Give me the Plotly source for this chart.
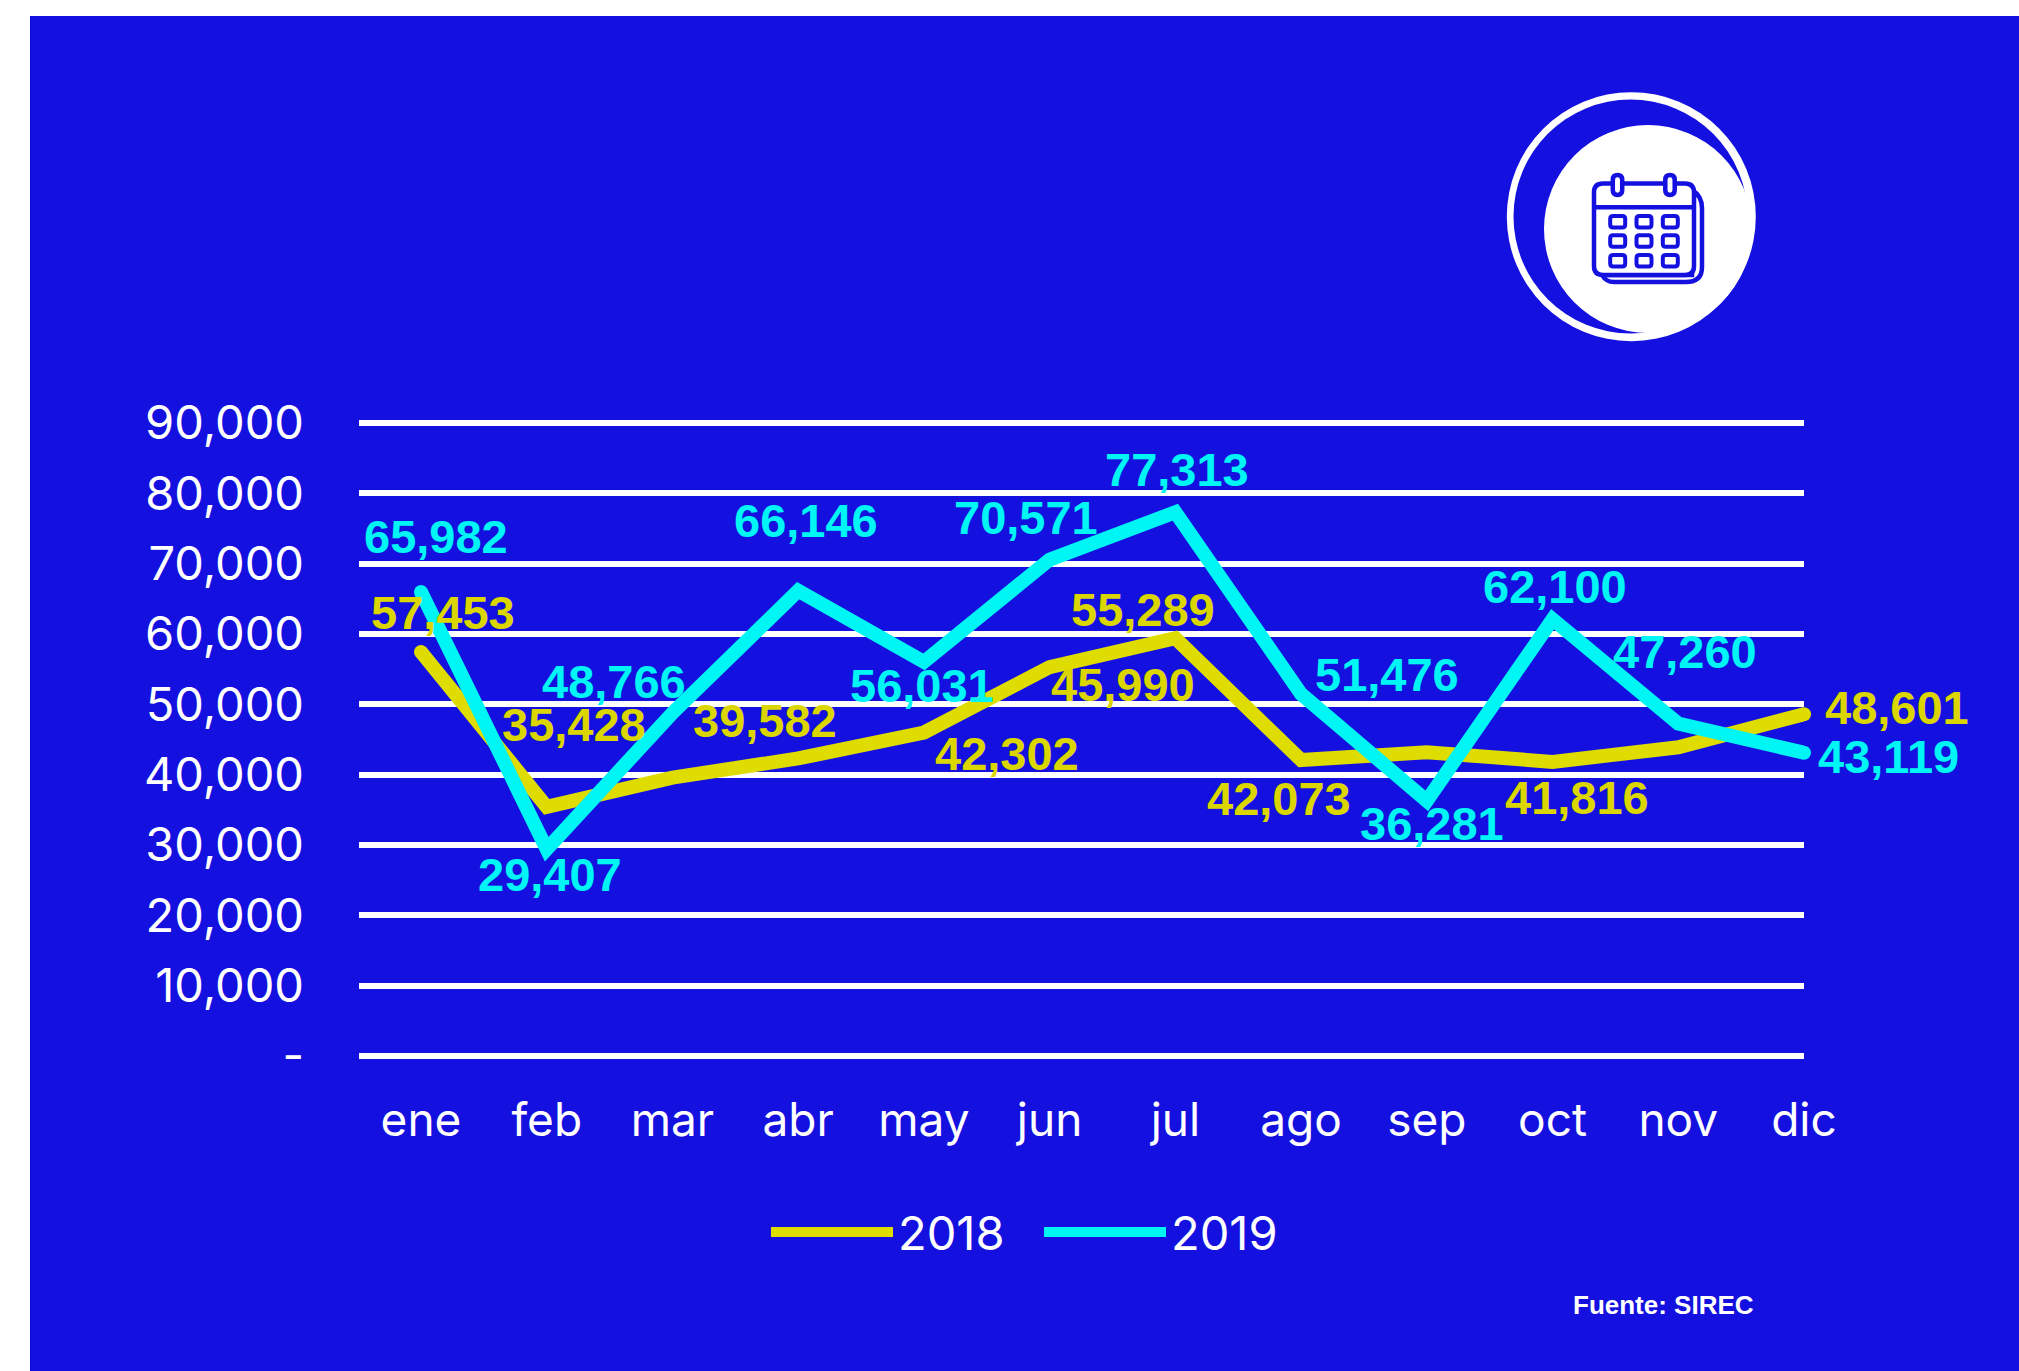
import plotly.graph_objects as go

W, H = 2019, 1371

months = ["ene", "feb", "mar", "abr", "may", "jun", "jul", "ago", "sep", "oct", "nov", "dic"]
values_2018 = [57453, 35428, 39582, 42302, 45990, 55289, 59400, 42073, 43200, 41816, 43900, 48601]
values_2019 = [65982, 29407, 48766, 66146, 56031, 70571, 77313, 51476, 36281, 62100, 47260, 43119]
labelled_2018 = [True, True, True, True, True, True, False, True, False, True, False, True]
y_ticks = [0, 10000, 20000, 30000, 40000, 50000, 60000, 70000, 80000, 90000]
y_tick_text = ["-", "10,000", "20,000", "30,000", "40,000", "50,000", "60,000", "70,000", "80,000", "90,000"]

# label offsets from their point, in pixels (dx, dy down)
offsets_2018 = [(22, -39), (27, -82), (93, -57), (209, -5), (199, -48), (93, -58),
                None, (-22, 38), None, (24, 36), None, (93, -7)]
offsets_2019 = [(15, -55), (3, 25), (-58, -32), (8, -70), (-2, 24), (-24, -42),
                (2, -43), (86, -19), (5, 23), (2, -33), (7, -72), (84, 4)]

BLUE = "#1410DF"
YELLOW = "#DEDC00"
CYAN = "#00F5F5"
TICK_FONT = "Inter"
LABEL_FONT = "Liberation Sans"


def px(x):
    return x / W


def py(y):
    return 1 - y / H


def path_rrect(x0, y0, x1, y1, r):
    def p(x, y):
        return f"{px(x):.5f},{py(y):.5f}"
    return (f"M{p(x0 + r, y0)} L{p(x1 - r, y0)} Q{p(x1, y0)} {p(x1, y0 + r)} "
            f"L{p(x1, y1 - r)} Q{p(x1, y1)} {p(x1 - r, y1)} L{p(x0 + r, y1)} "
            f"Q{p(x0, y1)} {p(x0, y1 - r)} L{p(x0, y0 + r)} Q{p(x0, y0)} {p(x0 + r, y0)} Z")


def circle(cx, cy, r, color):
    return dict(type="circle", xref="paper", yref="paper", layer="below",
                x0=px(cx - r), x1=px(cx + r), y0=py(cy + r), y1=py(cy - r),
                fillcolor=color, line=dict(width=0))


def stroke_path(d, width=4.5, fill="white"):
    return dict(type="path", xref="paper", yref="paper", layer="below", path=d,
                fillcolor=fill, line=dict(color=BLUE, width=width))


shapes = [dict(type="rect", xref="paper", yref="paper", layer="below",
               x0=px(30), x1=1, y0=0, y1=py(16), fillcolor=BLUE, line=dict(width=0))]
shapes += [circle(1631.3, 216.7, 124.5, "white"),
           circle(1630.5, 216.5, 117, BLUE),
           circle(1648, 229, 104, "white")]


def pt(x, y):
    return f"{px(x):.5f},{py(y):.5f}"


# calendar icon
shapes.append(stroke_path(
    f"M{pt(1692, 190)} Q{pt(1702, 196)} {pt(1702, 208)} L{pt(1702, 267)} "
    f"Q{pt(1702, 282)} {pt(1686, 282)} L{pt(1614, 282)} Q{pt(1606, 282)} {pt(1602, 275)} "
    f"L{pt(1692, 275)} Z"))
shapes.append(stroke_path(path_rrect(1594, 183.5, 1694, 275, 9)))
shapes.append(stroke_path(f"M{pt(1594, 207.3)} L{pt(1694, 207.3)}", fill="rgba(0,0,0,0)"))
for cx_ in (1617.5, 1670):
    shapes.append(stroke_path(path_rrect(cx_ - 4.7, 175, cx_ + 4.7, 195, 4.7)))
for cy_ in (221.7, 241, 260.7):
    for cx_ in (1617.7, 1644, 1670.3):
        shapes.append(stroke_path(path_rrect(cx_ - 7.5, cy_ - 5.7, cx_ + 7.5, cy_ + 5.7, 3), width=4))

fig = go.Figure()
for name, vals, color in (("2018", values_2018, YELLOW), ("2019", values_2019, CYAN)):
    fig.add_trace(go.Scatter(x=months, y=vals, name=name, mode="lines",
                             line=dict(color=color, width=14), cliponaxis=False))
    # rounded line ends
    fig.add_trace(go.Scatter(x=[months[0], months[-1]], y=[vals[0], vals[-1]], mode="markers",
                             marker=dict(color=color, size=14), showlegend=False,
                             hoverinfo="skip", cliponaxis=False))

annotations = []
for vals, offs, color, flags in ((values_2018, offsets_2018, "#DBD600", labelled_2018),
                                 (values_2019, offsets_2019, CYAN, [True] * 12)):
    for m, v, o, show in zip(months, vals, offs, flags):
        if not show:
            continue
        annotations.append(dict(x=m, y=v, xref="x", yref="y", text=f"{v:,}", showarrow=False,
                                xshift=o[0], yshift=-o[1], xanchor="center", yanchor="middle",
                                font=dict(family=LABEL_FONT, size=47, color=color, weight="bold")))
annotations.append(dict(x=px(1571), y=py(1305), xref="paper", yref="paper", text="Fuente: SIREC",
                        showarrow=False, xanchor="left", yanchor="middle",
                        font=dict(family="Liberation Sans", size=26, color="white", weight="bold")))

Y_TOP = 91000
fig.update_layout(
    width=W, height=H, autosize=False,
    margin=dict(l=0, r=0, t=0, b=0, pad=0, autoexpand=False),
    paper_bgcolor="white", plot_bgcolor="rgba(0,0,0,0)",
    shapes=shapes, annotations=annotations, hovermode=False,
    xaxis=dict(domain=[px(359), px(1804)], type="category", categoryorder="array", categoryarray=months,
               range=[-0.493, 11], showgrid=False, showline=False, ticks="", zeroline=False,
               tickfont=dict(family=TICK_FONT, size=46, color="white"), ticklabelstandoff=33),
    yaxis=dict(domain=[py(1056), py(1056 - 633 * Y_TOP / 90000)], range=[0, Y_TOP], tickmode="array",
               tickvals=y_ticks, ticktext=y_tick_text, showgrid=True, gridcolor="white", gridwidth=6,
               zeroline=True, zerolinecolor="white", zerolinewidth=6, showline=False, ticks="",
               tickfont=dict(family=TICK_FONT, size=47, color="white"), ticklabelstandoff=54),
    legend=dict(orientation="h", x=px(766), y=py(1195), xanchor="left", yanchor="top",
                bgcolor="rgba(0,0,0,0)", itemwidth=122, traceorder="normal",
                entrywidth=136, entrywidthmode="pixels",
                font=dict(family=TICK_FONT, size=47, color="white")),
)

fig.write_html("out.html", config=dict(displayModeBar=False),
               post_script="document.body.style.margin='0';document.documentElement.style.overflow='hidden';")
